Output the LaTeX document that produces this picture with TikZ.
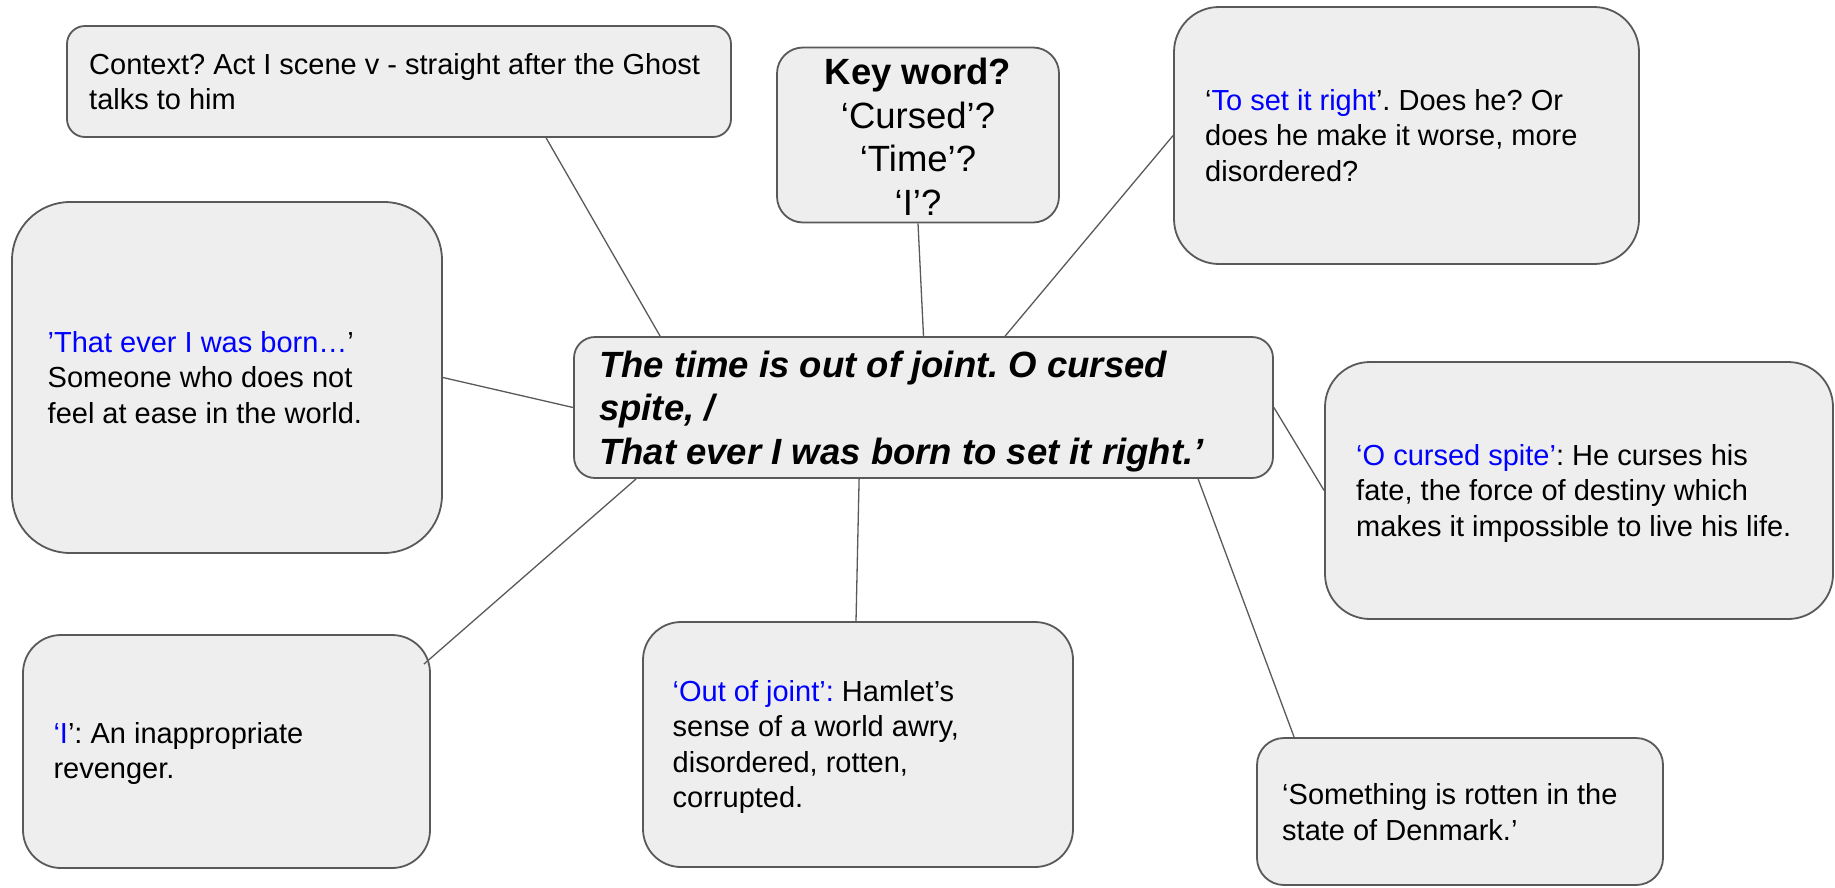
\documentclass[tikz,border=0pt]{standalone}
\usepackage{fontspec}
\setmainfont{Liberation Sans}
\frenchspacing
\definecolor{boxfill}{HTML}{EEEEEE}
\definecolor{boxline}{HTML}{595959}
\definecolor{qblue}{HTML}{0000FF}
\newcommand\bodyfont{\fontsize{29pt}{35.6pt}\selectfont\frenchspacing}
\newcommand\Q[1]{\textcolor{qblue}{#1}}
\newcommand\myStack[1]{\vtop{\lineskiplimit=-100pt #1}}
\tikzset{
  card/.style={draw=boxline, line width=1.8pt, fill=boxfill, rectangle, inner sep=0pt},
  link/.style={draw=boxline, line width=1.3pt},
  txt/.style={inner sep=0pt, anchor=base west, font=\bodyfont},
}
\begin{document}
\begin{tikzpicture}[x=1pt,y=-1pt]
\useasboundingbox (0,0) rectangle (1835,887);
% boxes
\node[card, minimum width=664pt, minimum height=111pt, rounded corners=18pt] (ctx) at (399,81.5) {};
\node[card, minimum width=282pt, minimum height=175pt, rounded corners=26pt] (key) at (918,135) {};
\node[card, minimum width=465pt, minimum height=257pt, rounded corners=45pt] (tsr) at (1406.5,135.5) {};
\node[card, minimum width=430pt, minimum height=351pt, rounded corners=58pt] (born) at (227,377.5) {};
\node[card, minimum width=699pt, minimum height=141pt, rounded corners=21pt] (main) at (923.5,407.5) {};
\node[card, minimum width=508pt, minimum height=257pt, rounded corners=45pt] (ocs) at (1579,490.5) {};
\node[card, minimum width=407pt, minimum height=233pt, rounded corners=38pt] (iii) at (226.5,751.5) {};
\node[card, minimum width=430pt, minimum height=245pt, rounded corners=38pt] (ooj) at (858,744.5) {};
\node[card, minimum width=406pt, minimum height=147pt, rounded corners=27pt] (rot) at (1460,811.5) {};
% connectors
\draw[link] ([xshift=480pt]ctx.south west) -- ([xshift=87pt]main.north west);
\draw[link] (key.south) -- (main.north);
\draw[link] (tsr.west) -- ([xshift=432pt]main.north west);
\draw[link] (born.east) -- (main.west);
\draw[link] (main.east) -- (ocs.west);
\draw[link] ([xshift=63pt]main.south west) -- ([xshift=-7pt,yshift=-30pt]iii.north east);
\draw[link] ([xshift=286pt]main.south west) -- ([xshift=-2pt]ooj.north);
\draw[link] ([xshift=625pt]main.south west) -- ([xshift=38pt]rot.north west);
% texts
\node[txt] (t-ctx) at (89,74) {\myStack{\hbox{Context? Act I scene v - straight after the Ghost}\hbox{talks to him}}};
\node[inner sep=0pt, anchor=base, font=\fontsize{36.5pt}{43.5pt}\selectfont\frenchspacing] (t-key) at (918,84.5)
  {\myStack{\hbox to 260pt{\hss\textbf{Key word?}\hss}\hbox to 260pt{\hss ‘Cursed’?\hss}\hbox to 260pt{\hss ‘Time’?\hss}\hbox to 260pt{\hss ‘I’?\hss}}};
\node[txt] (t-tsr) at (1205,110) {\myStack{\hbox{‘\Q{To set it right}’. Does he? Or}\hbox{does he make it worse, more}\hbox{disordered?}}};
\node[txt] (t-born) at (47.5,352) {\myStack{\hbox{\Q{’That ever I was born…}’}\hbox{Someone who does not}\hbox{feel at ease in the world.}}};
\node[inner sep=0pt, anchor=base west, font=\fontsize{36.5pt}{43.5pt}\selectfont\bfseries\itshape\frenchspacing] (t-main) at (599,377)
  {\myStack{\hbox{The time is out of joint. O cursed}\hbox{spite, /}\hbox{That ever I was born to set it right.’}}};
\node[txt] (t-ocs) at (1356,465) {\myStack{\hbox{\Q{‘O cursed spite’}: He curses his}\hbox{fate, the force of destiny which}\hbox{makes it impossible to live his life.}}};
\node[txt] (t-iii) at (53.3,743.3) {\myStack{\hbox{\Q{‘I}’: An inappropriate}\hbox{revenger.}}};
\node[txt] (t-ooj) at (672.5,701) {\myStack{\hbox{\Q{‘Out of joint’:} Hamlet’s}\hbox{sense of a world awry,}\hbox{disordered, rotten,}\hbox{corrupted.}}};
\node[txt] (t-rot) at (1282,804.5) {\myStack{\hbox{‘Something is rotten in the}\hbox{state of Denmark.’}}};
\end{tikzpicture}
\end{document}
